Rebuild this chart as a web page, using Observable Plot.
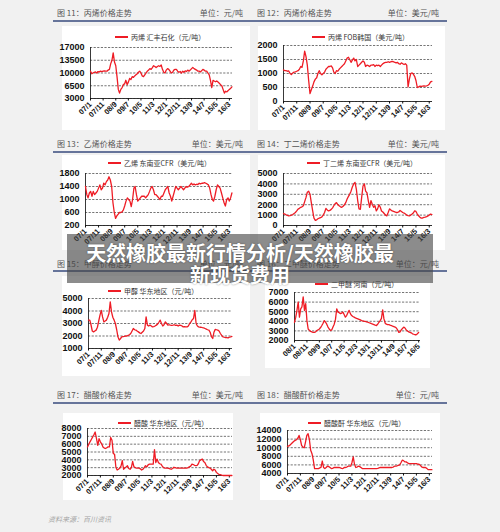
<!DOCTYPE html>
<html><head><meta charset="utf-8">
<script src="https://cdn.jsdelivr.net/npm/d3@7"></script>
<script src="https://cdn.jsdelivr.net/npm/@observablehq/plot@0.6"></script>
<style>
html,body{margin:0;padding:0;}
body{width:500px;height:532px;background:#f1f1f1;position:relative;overflow:hidden;font-family:"Noto Sans CJK SC","Noto Sans",sans-serif;}
.hdr{position:absolute;font-size:8px;color:#555;white-space:nowrap;line-height:10px;}
.rule{position:absolute;height:1.5px;background:#66749a;}
.box{position:absolute;background:#fff;}
.box svg{position:absolute;left:0;top:0;}
.legend{position:absolute;font-size:7px;color:#333;white-space:nowrap;line-height:9px;display:flex;align-items:center;}
.legend i{display:inline-block;width:13px;height:1.5px;background:#ee1c25;margin-right:3px;}
.banner{position:absolute;left:67px;top:234px;width:366px;height:49px;background:rgba(70,70,70,0.62);}
.bannerText{position:absolute;left:67px;top:242px;width:346px;text-align:center;color:#fff;font-weight:bold;font-size:20px;line-height:22px;text-shadow:0 0 2px rgba(0,0,0,0.45);}
.foot{position:absolute;left:48px;top:514px;font-size:7px;color:#a5a5a5;font-style:italic;}
</style></head><body>
<script>
// ---------- data ----------
const figTitles = ["图 11：丙烯价格走势","图 12：丙烯价格走势","图 13：乙烯价格走势","图 14：丁二烯价格走势","图 15：甲醇价格走势","图 16：二甲醚价格走势","图 17：醋酸价格走势","图 18：醋酸酐价格走势"];
const figUnits = ["单位：元/吨","单位：美元/吨","单位：美元/吨","单位：美元/吨","单位：元/吨","单位：元/吨","单位：美元/吨","单位：元/吨"];
const legendNames = ["丙烯 汇丰石化（元/吨）","丙烯 FOB韩国（美元/吨）","乙烯 东南亚CFR（美元/吨）","丁二烯 东南亚CFR（美元/吨）","甲醇 华东地区（元/吨）","二甲醚 河南（元/吨）","醋酸 华东地区（元/吨）","醋酸酐 华东地区（元/吨）"];
const xLabels07 = ["07/1","07/11","08/9","09/7","10/5","11/3","12/1","12/11","13/9","14/7","15/5","16/3"];
const xLabels08 = ["08/1","08/11","09/9","10/7","11/5","12/3","13/1","13/11","14/9","15/7","16/5"];
const yTicks1 = [3000,6500,10000,13500,17000];
const yTicks2 = [0,500,1000,1500,2000];
const yTicks3 = [200,600,1000,1400,1800];
const yTicks4 = [0,1000,2000,3000,4000,5000];
const yTicks5 = [1000,2000,3000,4000,5000];
const yTicks6 = [2000,3000,4000,5000,6000,7000];
const yTicks7 = [2000,3000,4000,5000,6000,7000,8000];
const yTicks8 = [4000,6000,8000,10000,12000,14000];
const seriesStart = ["2007-01","2007-01","2007-01","2007-01","2007-01","2008-01","2007-01","2007-01"];

// monthly values
const propyleneHuifeng = [
 10500,9800,10000,10200,10300,10000,10400,10300,10500,10400,10500,10600,
 10500,10500,10800,11000,12500,13500,15500,13000,12000,9000,5500,4500,
 5500,6000,6800,7000,8000,6800,7500,8500,8200,9000,8800,9200,
 9500,9800,10200,10500,10000,9200,9000,9500,10000,10500,10800,11200,
 11000,11500,12000,11800,11500,11800,12000,11800,12200,11000,10200,10000,
 10800,11200,11000,10500,10000,10200,10800,11000,11000,10500,10200,10400,
 10000,10500,10200,10600,10400,10800,10500,10800,11200,11500,11200,11000,
 10800,10500,10500,10300,10600,11000,10800,10500,10500,10000,9500,8000,
 6000,8000,7800,7600,7800,7500,7200,6800,6500,5500,4500,5000,
 4800,5200,5500,5800,6200];
const propyleneFOB = [
 1130,1100,1100,1080,1090,1000,960,1020,1050,1060,1080,1100,
 1150,1250,1220,1450,1800,1600,1300,750,280,420,550,700,
 800,850,1000,1100,1000,950,1000,1050,1150,1200,1250,1250,
 1270,1200,1050,1000,1100,1080,1150,1200,1250,1300,1350,1450,
 1550,1580,1500,1400,1480,1550,1450,1500,1250,1300,1350,1400,
 1450,1400,1250,1300,1280,1250,1300,1300,1320,1250,1300,1280,
 1300,1250,1300,1350,1380,1400,1400,1420,1400,1420,1430,1420,
 1400,1380,1400,1350,1330,1380,1350,1320,1350,1300,520,800,
 1000,1020,980,900,750,500,520,550,540,550,560,550,
 560,580,620,700,720];
const ethyleneCFR = [
 1400,1150,1050,1200,1250,1100,1250,1150,1200,1250,1350,1450,
 1300,1350,1500,1450,1550,1600,1700,1600,1400,900,600,420,
 500,550,600,600,620,680,800,950,1050,1000,950,780,
 1000,1350,1400,1150,950,1000,1050,1100,1100,1100,1050,1100,
 1150,1250,1350,1400,1300,1150,1150,1100,1050,1000,1100,1100,
 1200,1300,1350,1400,1200,1100,950,1100,1250,1400,1350,1300,
 1350,1400,1350,1300,1350,1400,1380,1400,1450,1500,1450,1480,
 1450,1470,1460,1500,1480,1500,1500,1520,1500,1480,1450,1350,
 1150,1000,950,1100,1300,1450,1400,1350,1200,1050,900,800,
 1000,1050,950,1050,1200];
const butadieneCFR = [
 1150,1100,1030,980,930,950,1000,1050,1150,1250,1400,1580,
 1650,1750,1800,1900,2300,2700,3200,3300,3000,2200,1400,700,
 500,550,650,700,750,830,1000,1250,1650,1500,1400,1450,
 1550,1700,1900,2100,2200,2000,1900,1800,1750,1850,2000,2200,
 2550,2800,3000,3300,3700,4000,4150,3500,2400,1600,1550,2700,
 3800,4000,3300,3150,2400,1750,2400,2050,1750,1900,1400,1600,
 2000,1750,1400,1300,1150,1000,930,1250,1600,1500,1400,1350,
 1300,1250,1250,1300,1450,1350,1250,1200,1100,1000,950,930,
 1000,1100,1200,1400,1350,1100,930,800,700,720,780,800,
 850,930,1000,1100,1050];
const methanolEast = [
 3270,3270,2900,2400,2330,2400,2470,2700,3200,3670,4050,3530,
 3130,3200,3270,3500,3800,4730,3930,3500,3270,3000,2500,1930,
 1670,1800,1930,1950,1970,2000,2000,2050,2100,2200,2400,2600,
 2500,2470,2400,2330,2250,2200,2300,2400,2600,3530,2870,2800,
 2870,2800,2730,2750,2800,2870,2950,3100,3270,3000,2800,2900,
 3130,3000,2870,2900,2870,2850,2870,2900,2850,2870,2800,2870,
 2850,2800,2730,2750,2730,2730,2800,3000,3130,3300,3400,4050,
 3000,2800,2730,2700,2700,2670,2650,2600,2550,2500,2470,2300,
 1950,1800,2300,2530,2500,2470,2400,2200,2050,1930,1900,1870,
 1870,1850,1900,1930,1970];
const dmeHenan = [
 3900,4430,5140,6000,4430,5300,5500,6540,5140,5850,4070,3200,
 3050,2950,2900,2850,2850,2900,3040,3100,3200,3350,3560,3800,
 4070,3900,3700,3400,3200,3040,3100,3400,3700,4200,5300,4960,
 4900,4800,4850,4960,4700,4430,4600,4900,5140,4800,4600,4500,
 4430,4350,4300,4250,4200,4150,4070,4050,4000,4000,3950,3900,
 3850,3800,3750,3700,3650,3600,3560,3700,3900,4070,4300,5200,
 4250,3800,3700,3650,3650,3600,3560,3500,3450,3400,3300,3100,
 2850,2900,3100,3250,3400,3300,3100,3000,2900,2850,2800,2700,
 2650,2600,2600,2700,2850];
const aceticEast = [
 5650,6000,6300,6600,6900,7200,7550,6700,5850,6700,6300,6050,
 5650,5500,5450,5550,5650,5650,6850,6500,4800,4700,3050,2700,
 2800,2950,3200,3900,2800,2950,3100,3250,2900,2800,3000,3800,
 3100,3000,2950,2950,2950,2850,2700,2800,3000,3250,3100,3350,
 3450,3450,3450,3450,5300,3650,4100,3650,3500,3450,3200,3000,
 2950,2950,2950,2900,2850,2800,2900,3050,3000,2950,2950,2950,
 2950,2950,2950,2950,2950,2950,3000,3100,3200,3450,3400,3300,
 3250,3300,3500,3900,4000,4100,3800,3650,3300,3100,3000,2950,
 2800,2600,2800,2700,2400,2250,2150,2100,2050,1950,1850,1800,
 1800,1800,1800,1800,1800];
const aceticAnhydrideEast = [
 10300,10400,10600,10900,11200,11500,11700,11850,12200,12850,11850,10500,
 10150,10000,11300,12850,13250,11850,9400,8600,7100,5150,5150,5150,
 5150,5300,5400,6900,5400,5150,5400,5700,5600,5400,5150,5200,
 5400,5400,5400,5400,5400,5300,5200,5150,5400,5400,5500,5700,
 5700,5700,6500,7850,6150,5400,5500,5700,5600,5400,5150,5150,
 5150,5150,5150,5150,5150,5150,5150,5150,5150,5150,5200,5300,
 5400,5400,5400,5400,5400,5400,5400,5400,5400,5400,5500,5700,
 5700,5800,5900,6000,6500,7100,7000,6700,6700,6500,6300,6300,
 6300,6300,6300,6300,6300,6200,6150,5900,5550,5400,5400,5400,
 5200,4900,4900,4900,4900];

const allSeries = [propyleneHuifeng, propyleneFOB, ethyleneCFR, butadieneCFR, methanolEast, dmeHenan, aceticEast, aceticAnhydrideEast];
const allYTicks = [yTicks1,yTicks2,yTicks3,yTicks4,yTicks5,yTicks6,yTicks7,yTicks8];
const allXLabels = [xLabels07,xLabels07,xLabels07,xLabels07,xLabels07,xLabels08,xLabels07,xLabels07];
const xDomains = [["2007-01-01","2016-05-15"],["2007-01-01","2016-05-15"],["2007-01-01","2016-05-15"],["2007-01-01","2016-05-15"],["2007-01-01","2016-05-15"],["2008-01-01","2016-06-15"],["2007-01-01","2016-05-15"],["2007-01-01","2016-05-15"]];

// ---------- layout ----------
const layout = [
 {box:[62,26,188,104], plot:[90,232,47,98], legend:[115,37]},
 {box:[258,26,187,104], plot:[283,432,45,101], legend:[312,37]},
 {box:[62,155,188,95], plot:[85,232,173,225], legend:[108,163]},
 {box:[258,155,187,95], plot:[283,432,173,225], legend:[307,163]},
 {box:[62,276,188,100], plot:[88,232,298,348], legend:[108,291]},
 {box:[265,276,165,92], plot:[294,420,292,340], legend:[315,284]},
 {box:[63,413,170,87], plot:[87,232,428,475], legend:[118,423]},
 {box:[260,413,180,87], plot:[287,432,430,473], legend:[308,423]}
];
const rows = [{ty:13, ry:20},{ty:144, ry:151},{ty:264, ry:270},{ty:395, ry:402}];

function el(cls, css, text){
  const d = document.createElement("div");
  d.className = cls;
  Object.assign(d.style, css);
  if (text != null) d.textContent = text;
  document.body.appendChild(d);
  return d;
}
const parseLabel = s => { const [y,m] = s.split("/").map(Number); return new Date(Date.UTC(2000+y, m-1, 1)); };
const parseStart = s => { const [y,m] = s.split("-").map(Number); return new Date(Date.UTC(y, m-1, 1)); };

// headers
rows.forEach((r, ri) => {
  el("rule", {left:"53px", top:(r.ry)+"px", width:"394px"});
  [0,1].forEach(c => {
    const i = ri*2 + c;
    el("hdr", {left:(c ? 257 : 57)+"px", top:(r.ty-5)+"px"}, figTitles[i]);
    const u = el("hdr", {top:(r.ty-5)+"px"}, figUnits[i]);
    u.style.right = (500 - (c ? 439 : 243)) + "px";
  });
});

// charts
layout.forEach((L, i) => {
  const [bx,by,bw,bh] = L.box;
  const [pl,pr,pt,pb] = L.plot;
  const box = el("box", {left:bx+"px", top:by+"px", width:bw+"px", height:bh+"px"});
  const start = parseStart(seriesStart[i]);
  const data = allSeries[i].map((v,k) => ({date: d3.utcMonth.offset(start, k), value: v}));
  const ticks = allYTicks[i];
  const labels = allXLabels[i];
  const tickDates = labels.map(parseLabel);
  const labelMap = new Map(tickDates.map((d,k) => [+d, labels[k]]));
  const dom = xDomains[i].map(s => new Date(s + "T00:00:00Z"));
  const ymin = ticks[0], ymax = ticks[ticks.length-1];
  const chart = Plot.plot({
    width: bw, height: bh,
    marginLeft: pl-bx, marginRight: bx+bw-pr, marginTop: pt-by, marginBottom: by+bh-pb,
    style: {background:"none", overflow:"visible", fontFamily:"'Liberation Sans', Arial, sans-serif", color:"#111"},
    x: {type:"utc", domain: dom},
    y: {domain:[ymin, ymax], clamp:true},
    marks: [
      Plot.gridY(ticks, {stroke:"#3a3a3a", strokeOpacity:1, strokeWidth:0.7, strokeDasharray:"2.2,1.4"}),
      Plot.ruleX([dom[0]], {stroke:"#222", strokeWidth:0.9}),
      Plot.ruleY([ymin], {stroke:"#222", strokeWidth:0.9}),
      Plot.axisY(ticks, {tickFormat: d => String(d), fontSize: 9, fontWeight:"bold", tickSize: 0, tickPadding: 6, label: null}),
      Plot.axisX(tickDates, {tickFormat: d => labelMap.get(+d), tickRotate: -45, fontSize: 7.5, fontWeight:"bold", tickSize: 2.5, tickPadding: 2, label: null}),
      Plot.line(data, {x:"date", y:"value", stroke:"#ee1c25", strokeWidth:1.3})
    ]
  });
  box.appendChild(chart);
  const lg = document.createElement("div");
  lg.className = "legend";
  lg.style.left = (L.legend[0]-bx) + "px";
  lg.style.top = (L.legend[1]-by-4.5) + "px";
  lg.innerHTML = "<i></i>";
  lg.appendChild(document.createTextNode(legendNames[i]));
  box.appendChild(lg);
});

// banner
el("banner", {});
const bt = el("bannerText", {});
bt.innerHTML = "天然橡胶最新行情分析/天然橡胶最<br>新现货费用";
el("foot", {}, "资料来源：百川资讯");
</script>
</body></html>
